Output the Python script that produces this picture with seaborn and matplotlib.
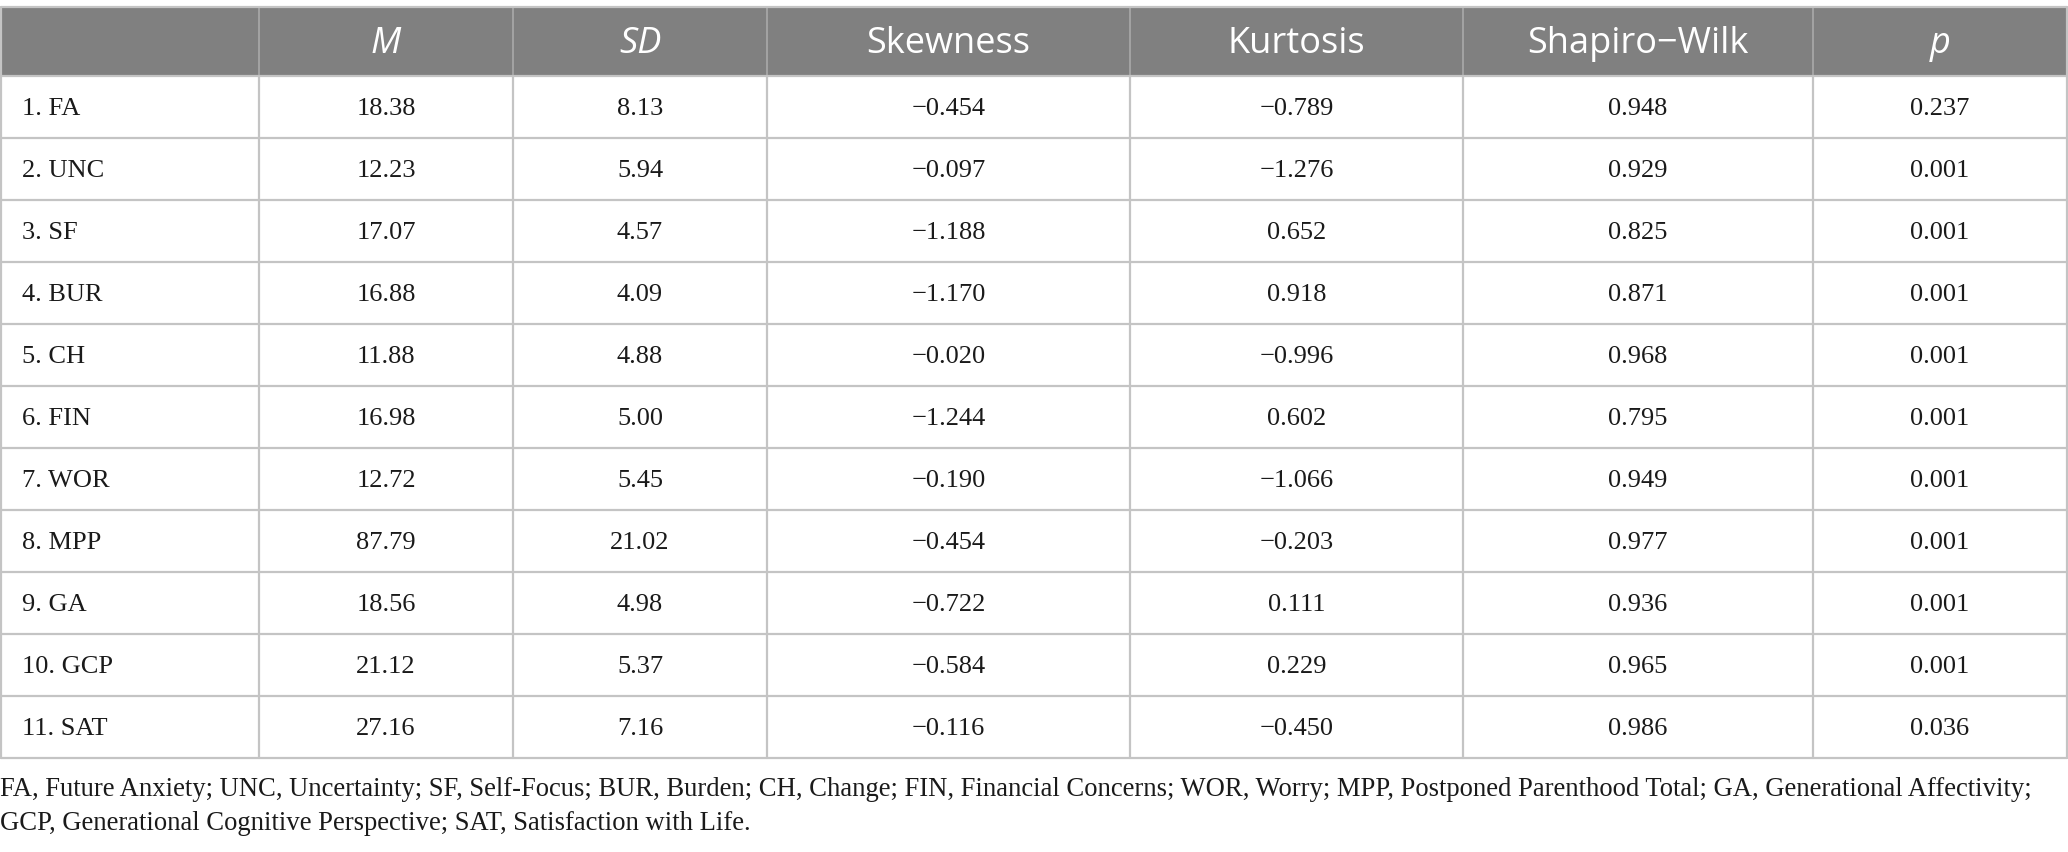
import matplotlib
matplotlib.use("Agg")
import matplotlib.pyplot as plt
import seaborn as sns
import pandas as pd
from matplotlib.patches import Rectangle

# ---- data ----
variables = ["1. FA", "2. UNC", "3. SF", "4. BUR", "5. CH", "6. FIN",
             "7. WOR", "8. MPP", "9. GA", "10. GCP", "11. SAT"]
mean_vals = [18.38, 12.23, 17.07, 16.88, 11.88, 16.98, 12.72, 87.79, 18.56, 21.12, 27.16]
sd_vals = [8.13, 5.94, 4.57, 4.09, 4.88, 5.00, 5.45, 21.02, 4.98, 5.37, 7.16]
skew_vals = [-0.454, -0.097, -1.188, -1.170, -0.020, -1.244, -0.190, -0.454, -0.722, -0.584, -0.116]
kurt_vals = [-0.789, -1.276, 0.652, 0.918, -0.996, 0.602, -1.066, -0.203, 0.111, 0.229, -0.450]
sw_vals = [0.948, 0.929, 0.825, 0.871, 0.968, 0.795, 0.949, 0.977, 0.936, 0.965, 0.986]
p_vals = [0.237, 0.001, 0.001, 0.001, 0.001, 0.001, 0.001, 0.001, 0.001, 0.001, 0.036]
headers = ["", "M", "SD", "Skewness", "Kurtosis", "Shapiro\u2212Wilk", "p"]
header_italic = [False, True, True, False, False, False, True]
footnote = ["FA, Future Anxiety; UNC, Uncertainty; SF, Self-Focus; BUR, Burden; CH, Change; FIN, Financial Concerns; WOR, Worry; MPP, Postponed Parenthood Total; GA, Generational Affectivity;",
            "GCP, Generational Cognitive Perspective; SAT, Satisfaction with Life."]

df = pd.DataFrame({"var": variables, "M": mean_vals, "SD": sd_vals, "Skew": skew_vals,
                   "Kurt": kurt_vals, "SW": sw_vals, "p": p_vals})

def fmt(v, d):
    s = f"{abs(v):.{d}f}"
    return ("\u2212" + s) if v < 0 else s

# ---- layout ----
sns.set_theme(style="white")
plt.rcParams["font.family"] = ["Liberation Serif", "DejaVu Serif"]

W, H = 2068, 853
fig = plt.figure(figsize=(W / 100, H / 100), dpi=100)
ax = fig.add_axes([0, 0, 1, 1])
ax.set_xlim(0, W)
ax.set_ylim(H, 0)
ax.axis("off")

col_edges = [1, 259, 513, 767, 1130, 1463, 1813, 2067]
top = 8
header_h = 69
row_h = 62
n_rows = len(df)
table_bottom = top + header_h + n_rows * row_h

header_bg = "#808080"
grid_c = "#c4c4c4"
head_sep = "#a3a3a3"
text_c = "#1a1a1a"

# header background
ax.add_patch(Rectangle((col_edges[0], top), col_edges[-1] - col_edges[0], header_h,
                       facecolor=header_bg, edgecolor="none", zorder=1))
# top border
ax.plot([col_edges[0], col_edges[-1]], [top, top], color=grid_c, lw=1.6, zorder=3)
# header separators
for x in col_edges[1:-1]:
    ax.plot([x, x], [top, top + header_h], color=head_sep, lw=1.4, zorder=2)
for x in [col_edges[0], col_edges[-1]]:
    ax.plot([x, x], [top, table_bottom], color=grid_c, lw=1.6, zorder=3)
# body grid
for i in range(n_rows + 1):
    y = top + header_h + i * row_h
    ax.plot([col_edges[0], col_edges[-1]], [y, y], color=grid_c, lw=1.6, zorder=3)
for x in col_edges[1:-1]:
    ax.plot([x, x], [top + header_h, table_bottom], color=grid_c, lw=1.6, zorder=3)

# header text
for j, h in enumerate(headers):
    if not h:
        continue
    cx = (col_edges[j] + col_edges[j + 1]) / 2
    ax.text(cx, top + header_h / 2 + 1, h, ha="center", va="center", color="white",
            fontsize=26, family=["Open Sans", "DejaVu Sans"],
            style="italic" if header_italic[j] else "normal", zorder=4)

# body text
cols = [("M", 2), ("SD", 2), ("Skew", 3), ("Kurt", 3), ("SW", 3), ("p", 3)]
for i, row in df.iterrows():
    cy = top + header_h + i * row_h + row_h / 2 + 1
    ax.text(col_edges[0] + 21, cy, row["var"], ha="left", va="center",
            fontsize=19, color=text_c, zorder=4)
    for j, (c, d) in enumerate(cols, start=1):
        cx = (col_edges[j] + col_edges[j + 1]) / 2
        ax.text(cx, cy, fmt(row[c], d), ha="center", va="center",
                fontsize=19, color=text_c, zorder=4)

# footnote
for k, line in enumerate(footnote):
    ax.text(0, 790 + k * 34, line, ha="left", va="center", fontsize=19.2, color=text_c)

fig.savefig("out.png", dpi=100, facecolor="white")
